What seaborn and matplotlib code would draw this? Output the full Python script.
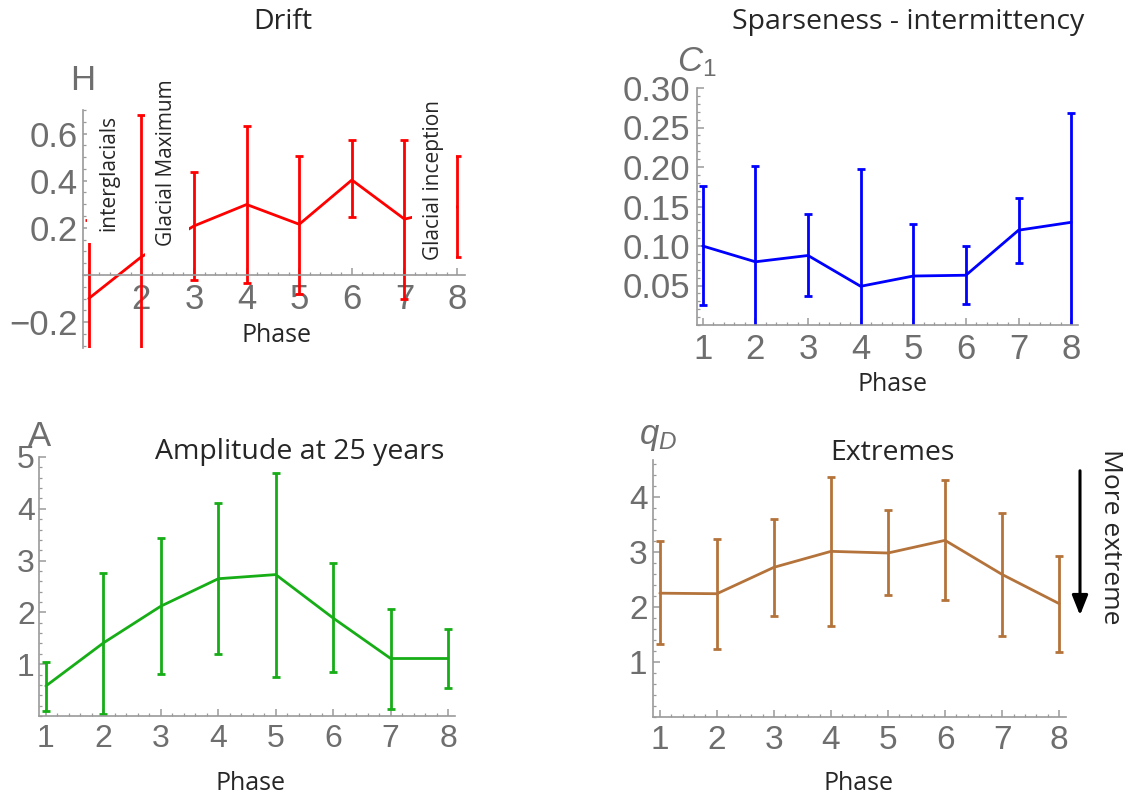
import numpy as np
import pandas as pd
import matplotlib
matplotlib.use("Agg")
import matplotlib.pyplot as plt
from matplotlib.ticker import FixedLocator, FixedFormatter, MultipleLocator
import seaborn as sns

# phases on the x axis
phases = [1, 2, 3, 4, 5, 6, 7, 8]
phase_labels = ["1", "2", "3", "4", "5", "6", "7", "8"]

# Drift (H)
drift_mean = [-0.10, 0.077, 0.208, 0.299, 0.215, 0.403, 0.237, 0.289]
drift_low = [-0.435, -0.52, -0.021, -0.035, -0.08, 0.244, -0.10, 0.075]
drift_high = [0.235, 0.68, 0.438, 0.632, 0.504, 0.572, 0.572, 0.504]

# Sparseness - intermittency (C1)
sparse_mean = [0.100, 0.080, 0.088, 0.049, 0.062, 0.063, 0.120, 0.130]
sparse_low = [0.025, -0.041, 0.037, -0.100, -0.002, 0.026, 0.079, -0.008]
sparse_high = [0.176, 0.201, 0.140, 0.198, 0.128, 0.100, 0.161, 0.268]

# Amplitude at 25 years (A)
ampl_mean = [0.58, 1.41, 2.12, 2.65, 2.73, 1.89, 1.11, 1.11]
ampl_low = [0.10, 0.03, 0.81, 1.19, 0.76, 0.85, 0.14, 0.54]
ampl_high = [1.04, 2.77, 3.43, 4.11, 4.70, 2.95, 2.07, 1.68]

# Extremes (qD)
extr_mean = [2.25, 2.24, 2.72, 3.01, 2.98, 3.21, 2.59, 2.06]
extr_low = [1.32, 1.23, 1.83, 1.65, 2.21, 2.13, 1.47, 1.19]
extr_high = [3.20, 3.24, 3.59, 4.36, 3.76, 4.30, 3.70, 2.92]

W, H = 1127, 800

sns.set_style("white")
plt.rcParams["font.family"] = ["Open Sans", "DejaVu Sans"]
plt.rcParams["mathtext.fontset"] = "custom"
plt.rcParams["mathtext.rm"] = "Liberation Sans"
plt.rcParams["mathtext.it"] = "Liberation Sans:italic"

GRAY = "#6e6e6e"
AXC = "#9a9a9a"
TICKFONT = "Liberation Sans"

fig = plt.figure(figsize=(W / 100, H / 100), dpi=100)
fig.patch.set_facecolor("white")


def px(x, y):
    return x / W, 1 - y / H


def make_ax(left, top, right, bottom):
    return fig.add_axes([left / W, 1 - bottom / H, (right - left) / W, (bottom - top) / H])


def draw_panel(ax, mean, low, high, color):
    df = pd.DataFrame({"Phase": phases, "value": mean})
    sns.lineplot(data=df, x="Phase", y="value", color=color, lw=2, ax=ax)
    m = np.array(mean)
    yerr = [m - np.array(low), np.array(high) - m]
    ax.errorbar(phases, mean, yerr=yerr, fmt="none", ecolor=color,
                elinewidth=2, capsize=3, capthick=2)
    ax.set_xlabel("")
    ax.set_ylabel("")
    sns.despine(ax=ax)
    ax.set_facecolor("none")
    for s in ["left", "bottom"]:
        ax.spines[s].set_color(AXC)
        ax.spines[s].set_linewidth(1.2)
    ax.tick_params(which="both", direction="in", color=AXC, labelcolor=GRAY,
                   labelfontfamily=TICKFONT)
    ax.tick_params(which="major", length=5, width=1.1)
    ax.tick_params(which="minor", length=2.5, width=0.9)
    ax.tick_params(axis="y", which="both", left=True)
    ax.tick_params(axis="x", which="both", bottom=True)


def set_ticks(ax, xt_labels, yticks, ylabels, yminor, fs):
    ax.xaxis.set_major_locator(FixedLocator(phases))
    ax.xaxis.set_major_formatter(FixedFormatter(xt_labels))
    ax.xaxis.set_minor_locator(MultipleLocator(0.2))
    ax.yaxis.set_major_locator(FixedLocator(yticks))
    ax.yaxis.set_major_formatter(FixedFormatter(ylabels))
    ax.yaxis.set_minor_locator(MultipleLocator(yminor))
    ax.tick_params(labelsize=fs, labelfontfamily=TICKFONT)


# ---- Drift
ax1 = make_ax(83, 110, 465, 348)
draw_panel(ax1, drift_mean, drift_low, drift_high, "#ff0000")
ax1.set_xlim(0.89, 8.15)
ax1.set_ylim(-0.31, 0.70)
ax1.spines["bottom"].set_position(("data", 0))
set_ticks(ax1, [""] + phase_labels[1:], [-0.2, 0.2, 0.4, 0.6],
          ["\u22120.2", "0.2", "0.4", "0.6"], 0.05, 25)
ax1.tick_params(axis="x", pad=6)
ax1.tick_params(axis="y", pad=4)

# ---- Sparseness
ax2 = make_ax(697, 88, 1078, 325)
draw_panel(ax2, sparse_mean, sparse_low, sparse_high, "#0000ff")
ax2.set_xlim(0.89, 8.13)
ax2.set_ylim(0, 0.30)
set_ticks(ax2, phase_labels, [0.05, 0.10, 0.15, 0.20, 0.25, 0.30],
          ["0.05", "0.10", "0.15", "0.20", "0.25", "0.30"], 0.01, 25)
ax2.tick_params(axis="x", pad=6)
ax2.tick_params(axis="y", pad=5)

# ---- Amplitude
ax3 = make_ax(39, 457, 455, 716)
draw_panel(ax3, ampl_mean, ampl_low, ampl_high, "#16ad16")
ax3.set_xlim(0.88, 8.12)
ax3.set_ylim(0, 5)
set_ticks(ax3, phase_labels, [1, 2, 3, 4, 5], ["1", "2", "3", "4", "5"], 0.2, 23)
ax3.tick_params(axis="x", pad=6)
ax3.tick_params(axis="y", pad=3)

# ---- Extremes
ax4 = make_ax(653, 460, 1066, 717)
draw_panel(ax4, extr_mean, extr_low, extr_high, "#b4733a")
ax4.set_xlim(0.88, 8.12)
ax4.set_ylim(0, 4.67)
set_ticks(ax4, phase_labels, [1, 2, 3, 4], ["1", "2", "3", "4"], 0.2, 24)
ax4.tick_params(axis="x", pad=6)
ax4.tick_params(axis="y", pad=4)

# titles and axis names
tfs = 20.5
fig.text(*px(283, 22), "Drift", fontsize=tfs, ha="center", va="center")
fig.text(*px(908, 22), "Sparseness - intermittency", fontsize=tfs, ha="center", va="center")
fig.text(*px(300, 452), "Amplitude at 25 years", fontsize=tfs, ha="center", va="center")
fig.text(*px(892, 453), "Extremes", fontsize=tfs, ha="center", va="center")
for x, y in [(277, 336), (893, 385), (250, 783), (858, 783)]:
    fig.text(*px(x, y), "Phase", fontsize=18, ha="center", va="center")

nfs = 25
fig.text(*px(83, 80), "H", fontsize=nfs, color=GRAY, ha="center", va="center",
         family=TICKFONT)
fig.text(*px(697, 62), r"$C_1$", fontsize=nfs, color=GRAY, ha="center", va="center")
fig.text(*px(40, 436), "A", fontsize=nfs, color=GRAY, ha="center", va="center",
         family=TICKFONT)
fig.text(*px(658, 436), r"$q_D$", fontsize=nfs, color=GRAY, ha="center", va="center")

# phase annotations in the drift panel
box = dict(boxstyle="square,pad=0.55", fc="white", ec="none")
fig.text(*px(109, 173), "interglacials", fontsize=15, rotation=90,
         ha="center", va="center", bbox=box)
fig.text(*px(167, 163), "Glacial Maximum", fontsize=15, rotation=90,
         ha="center", va="center", bbox=box)
fig.text(*px(434, 180), "Glacial inception", fontsize=15, rotation=90,
         ha="center", va="center", bbox=box)

# "more extreme" arrow
fig.patches.append(matplotlib.patches.FancyArrowPatch(
    px(1080, 468), px(1080, 618), transform=fig.transFigure,
    arrowstyle="-|>,head_length=1.0,head_width=0.4", lw=2.2, color="black",
    mutation_scale=12))
fig.text(*px(1111, 537), "More extreme", fontsize=19, rotation=270,
         ha="center", va="center")

fig.savefig("out.png", dpi=100, facecolor="white")
